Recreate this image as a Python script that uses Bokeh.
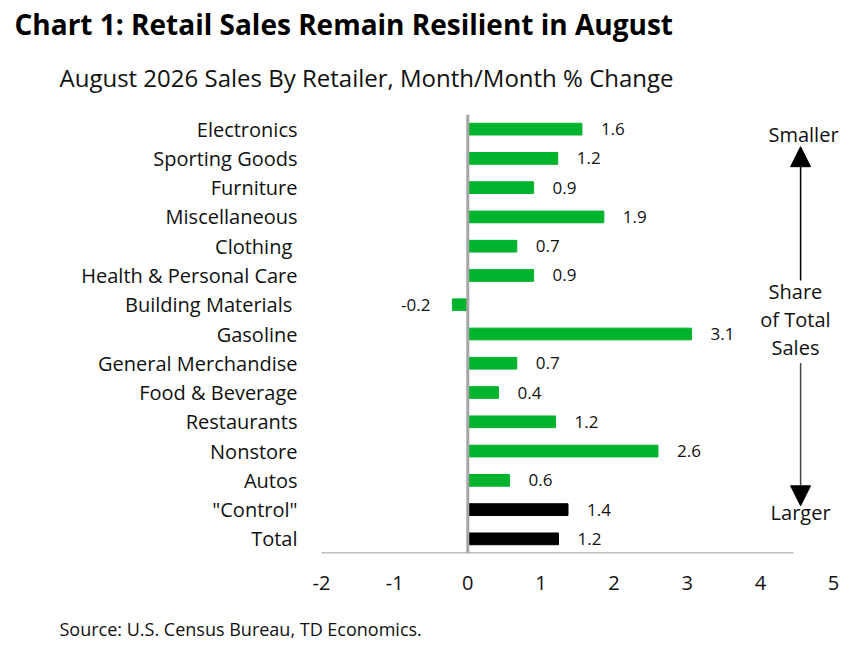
from bokeh.plotting import figure
from bokeh.models import FactorRange, Range1d, ColumnDataSource, Label, Arrow, NormalHead, Span, FixedTicker, Title
from bokeh.embed import file_html
from bokeh.resources import INLINE
from bokeh.core.properties import value

categories = ["Electronics", "Sporting Goods", "Furniture", "Miscellaneous", "Clothing ",
              "Health & Personal Care", "Building Materials ", "Gasoline", "General Merchandise",
              "Food & Beverage", "Restaurants", "Nonstore", "Autos", '"Control"', "Total"]
values = [1.56, 1.23, 0.90, 1.86, 0.67, 0.90, -0.21, 3.06, 0.67, 0.42, 1.20, 2.60, 0.57, 1.37, 1.24]
groups = ["retailer"] * 13 + ["aggregate"] * 2
x_ticks = [-2, -1, 0, 1, 2, 3, 4, 5]
x_tick_labels = ["-2", "-1", "0", "1", "2", "3", "4", "5"]

FONT = "Open Sans"
GREEN = "#00B32D"
TXT = "#111111"
color_map = {"retailer": GREEN, "aggregate": "#000000"}

src = ColumnDataSource(dict(
    cat=categories,
    val=values,
    color=[color_map[g] for g in groups],
    lab=[f"{v:.1f}" for v in values],
    off=[19 if v >= 0 else -22 for v in values],
    align=["left" if v >= 0 else "right" for v in values],
))

W, H = 866, 646
FL, FR, FT, FB = 321, 845, 114, 553
p = figure(width=W, height=H, output_backend="svg", toolbar_location=None,
           y_range=FactorRange(factors=list(reversed(categories)), range_padding=0),
           x_range=Range1d(-2, 5.164),
           min_border_left=FL, min_border_right=W - FR, min_border_top=FT, min_border_bottom=H - FB)
p.outline_line_color = None
p.xgrid.grid_line_color = None
p.ygrid.grid_line_color = None
p.background_fill_color = "white"
p.border_fill_color = "white"

p.hbar(y="cat", left=0, right="val", height=0.4, color="color", source=src)

p.add_layout(Span(location=0, dimension="height", line_color="#A6A6A6", line_width=3))
p.segment(x0=[-2.04], x1=[4.45], y0=[0], y1=[0], line_color="#BFBFBF", line_width=3)

p.text(x="val", y="cat", text="lab", x_offset="off", text_align="align", text_baseline="middle",
       text_font=value(FONT), text_font_size="17px", text_color=TXT, source=src)

# y axis
p.yaxis.axis_line_color = None
p.yaxis.major_tick_line_color = None
p.yaxis.minor_tick_line_color = None
p.yaxis.major_label_text_font = FONT
p.yaxis.major_label_text_font_size = "20px"
p.yaxis.major_label_text_color = TXT
p.yaxis.major_label_standoff = 18

# x axis
p.xaxis.ticker = FixedTicker(ticks=x_ticks)
p.xaxis.major_label_overrides = {t: s for t, s in zip(x_ticks, x_tick_labels)}
p.xaxis.axis_line_color = None
p.xaxis.major_tick_line_color = None
p.xaxis.minor_tick_line_color = None
p.xaxis.major_label_text_font = FONT
p.xaxis.major_label_text_font_size = "20px"
p.xaxis.major_label_text_color = TXT
p.xaxis.major_label_standoff = 16

# right-hand annotation
for txt, xx, yy in [("Smaller", 4.59, 14.3), ("Share", 4.48, 8.95), ("of Total", 4.48, 8.0),
                    ("Sales", 4.48, 7.04), ("Larger", 4.55, 1.4)]:
    p.add_layout(Label(x=xx, y=yy, text=txt, text_align="center", text_baseline="middle",
                       text_font=FONT, text_font_size="20px", text_color=TXT))
p.add_layout(Arrow(x_start=4.55, y_start=9.33, x_end=4.55, y_end=13.9, line_color="black", line_width=1.5,
                   end=NormalHead(size=20, fill_color="black", line_color="black")))
p.add_layout(Arrow(x_start=4.55, y_start=6.51, x_end=4.55, y_end=1.63, line_color="#444444", line_width=1.5,
                   end=NormalHead(size=20, fill_color="black", line_color="black")))

# titles and source as layout panels (first added sits nearest the frame)
def spacer(st):
    return Title(text=" ", text_font_size="1px", standoff=st, text_color="white")

p.add_layout(spacer(3.4), "above")
p.add_layout(Title(text="August 2026 Sales By Retailer, Month/Month % Change", align="left",
                   offset=59 - FL, standoff=26.5, text_font=FONT, text_font_size="24px",
                   text_font_style="normal", text_color=TXT), "above")
p.add_layout(Title(text="Chart 1: Retail Sales Remain Resilient in August", align="left",
                   offset=14 - FL, standoff=4.7, text_font=FONT, text_font_size="28px",
                   text_font_style="bold", text_color="black"), "above")
p.add_layout(spacer(13.4), "below")
p.add_layout(Title(text="Source: U.S. Census Bureau, TD Economics.", align="left",
                   offset=59 - FL, standoff=10.7, text_font=FONT, text_font_size="18px",
                   text_font_style="normal", text_color=TXT), "below")

open("out.html", "w").write(file_html(p, INLINE))
